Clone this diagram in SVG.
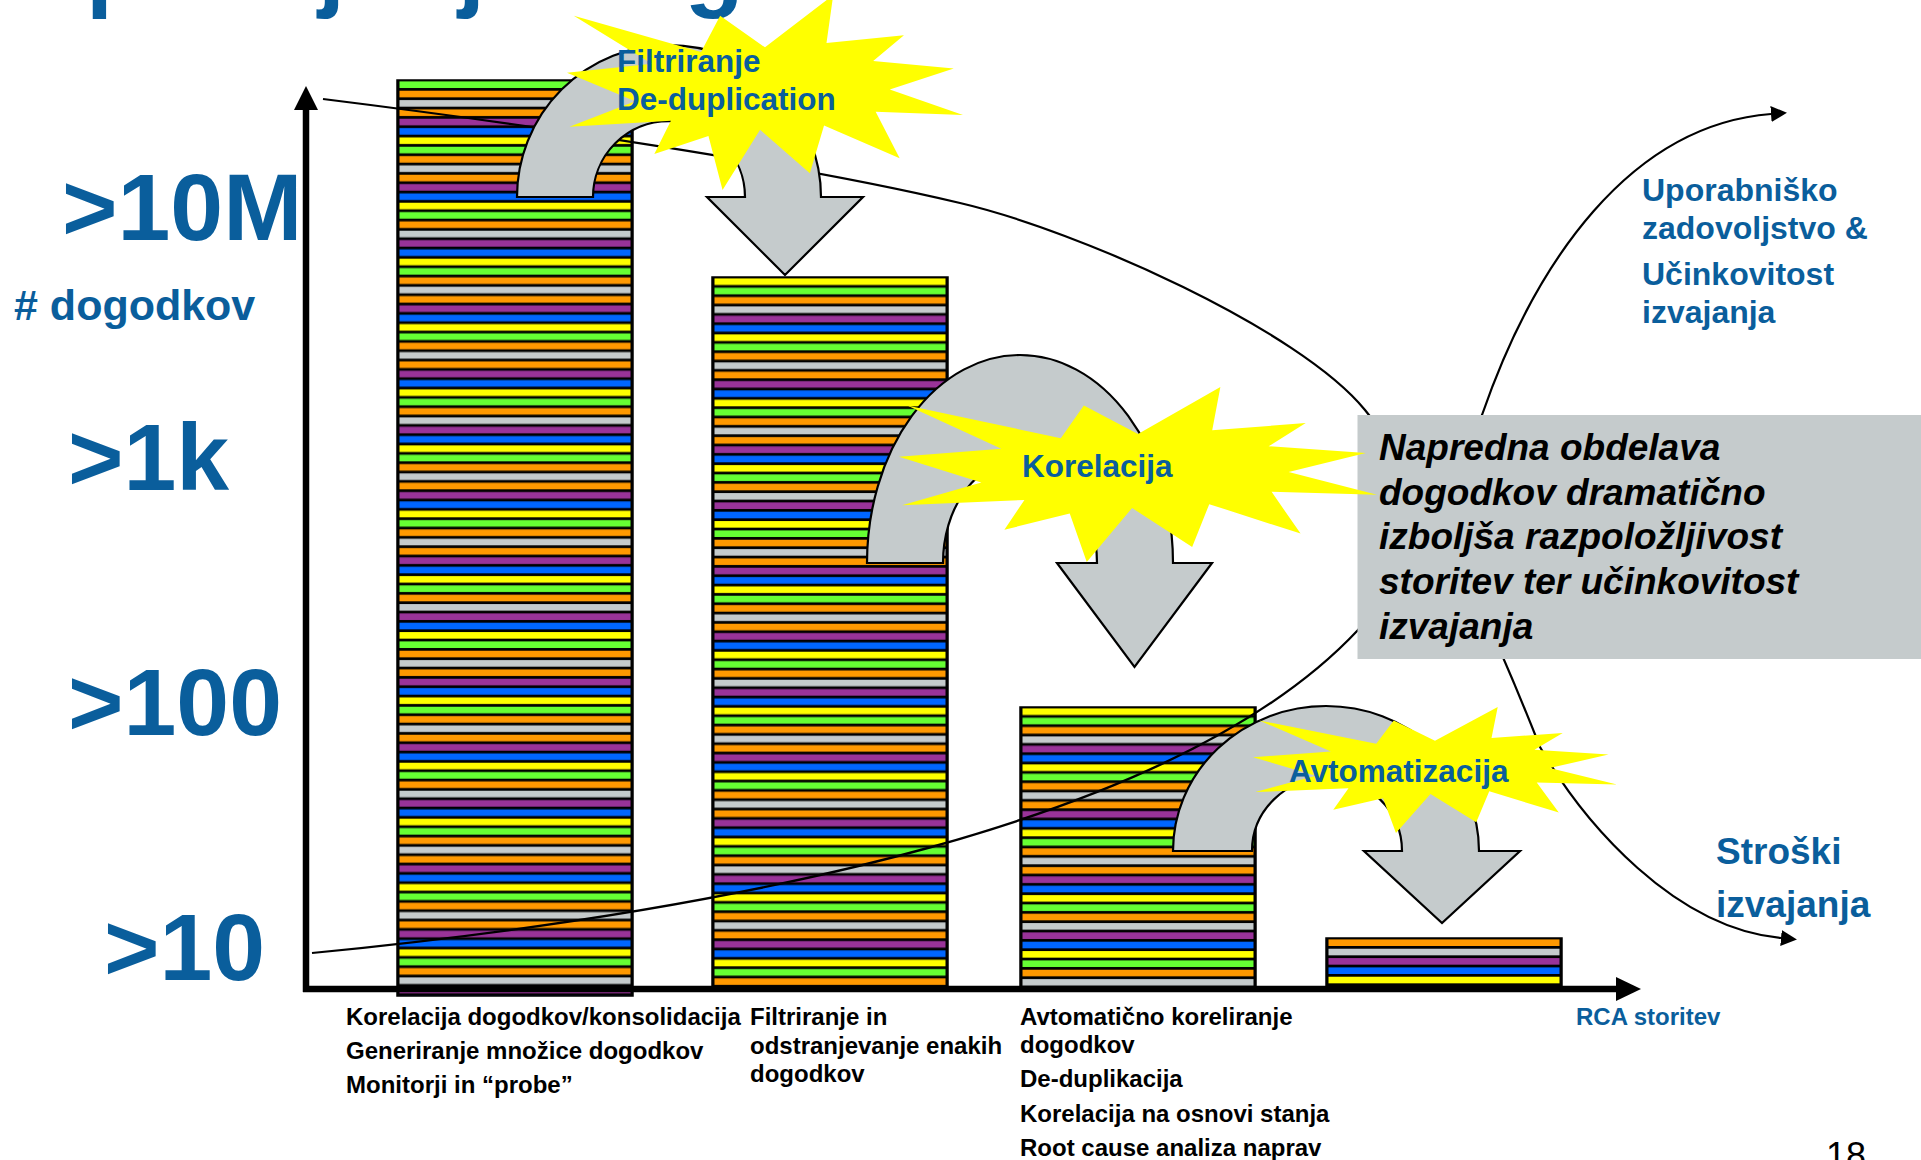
<svg xmlns="http://www.w3.org/2000/svg" width="1921" height="1160" viewBox="0 0 1921 1160">
<style>
  text { font-family: "Liberation Sans", Arial, sans-serif; font-weight: bold; }
  .blue { fill: #0A5E9C; }
  .big { font-size: 95px; }
  .lbl { font-size: 24px; fill: #000; }
  .burst-t { font-size: 31.5px; }
  .side { font-size: 32px; }
  .note-t { font-size: 37px; font-style: italic; fill: #000; }
  .plain { font-weight: normal; }
  .g { fill: #66FF33; } .o { fill: #FF9900; } .s { fill: #C5CBCC; }
  .p { fill: #993399; } .b { fill: #0066FF; } .y { fill: #FFFF00; }
  .bar { stroke: #000; stroke-width: 1.5; }
  .uturn { fill: #C5CBCC; stroke: #000; stroke-width: 2.2; }
  .curve { fill: none; stroke: #000; stroke-width: 2.2; }
  .axis { stroke: #000; stroke-width: 6.5; fill: none; }
</style>
<defs>
  <!-- repeating block of 20 coloured event stripes, 28/3 px per stripe -->
  <pattern id="stripes" patternUnits="userSpaceOnUse" width="236" height="186.6667">
    <rect width="236" height="186.6667" fill="#000"/>
    <rect class="g" x="2.5" y="1.4" width="231" height="6.6"/>
    <rect class="o" x="2.5" y="10.73" width="231" height="6.6"/>
    <rect class="s" x="2.5" y="20.07" width="231" height="6.6"/>
    <rect class="o" x="2.5" y="29.4" width="231" height="6.6"/>
    <rect class="p" x="2.5" y="38.73" width="231" height="6.6"/>
    <rect class="b" x="2.5" y="48.07" width="231" height="6.6"/>
    <rect class="y" x="2.5" y="57.4" width="231" height="6.6"/>
    <rect class="g" x="2.5" y="66.73" width="231" height="6.6"/>
    <rect class="o" x="2.5" y="76.07" width="231" height="6.6"/>
    <rect class="s" x="2.5" y="85.4" width="231" height="6.6"/>
    <rect class="o" x="2.5" y="94.73" width="231" height="6.6"/>
    <rect class="p" x="2.5" y="104.07" width="231" height="6.6"/>
    <rect class="b" x="2.5" y="113.4" width="231" height="6.6"/>
    <rect class="y" x="2.5" y="122.73" width="231" height="6.6"/>
    <rect class="g" x="2.5" y="132.07" width="231" height="6.6"/>
    <rect class="o" x="2.5" y="141.4" width="231" height="6.6"/>
    <rect class="s" x="2.5" y="150.73" width="231" height="6.6"/>
    <rect class="p" x="2.5" y="160.07" width="231" height="6.6"/>
    <rect class="b" x="2.5" y="169.4" width="231" height="6.6"/>
    <rect class="y" x="2.5" y="178.73" width="231" height="6.6"/>
  </pattern>
  <!-- explosion shape in a 100 x 100 box -->
  <path id="seal" fill="#FFFF00" d="M50,26.85 L67.23,0 L65.53,24.65 L85.09,20.63 L77.32,33.87 L97.67,37.67 L81.51,48.5 L100,61.53 L77.95,59.92 L84.01,83.77 L64.91,66.93 L61.33,91.38 L48.76,69.14 L39.28,100 L35.72,72.35 L22.05,81.56 L26.24,64.52 L0.63,67.53 L17.23,54.51 L0,39.88 L21.42,35.26 L1.71,10.63 L33.85,29.26 L38.67,10.63 Z"/>
  <marker id="head" markerUnits="userSpaceOnUse" viewBox="0 0 16 16" markerWidth="16" markerHeight="16" refX="0" refY="8" orient="auto">
    <path d="M0,0 L16,8 L0,16 Z" fill="#000"/>
  </marker>
</defs>

<rect width="1921" height="1160" fill="#fff"/>

<!-- page title, mostly above the visible area -->
<text id="title" class="blue" x="16" y="-1.5" font-size="97">Upravljanje dogodkov</text>

<!-- event stacks -->
<g id="bar1" transform="translate(397,80)">
  <rect class="bar" width="236" height="916" fill="url(#stripes)"/>
</g>
<g id="bar2" transform="translate(712,155.667)">
  <rect class="bar" y="121.333" width="236" height="709" fill="url(#stripes)"/>
</g>
<g id="bar3" transform="translate(1020,585.667)">
  <rect class="bar" y="121.333" width="236" height="280" fill="url(#stripes)"/>
</g>
<g id="bar4" transform="translate(1326,938)">
  <rect class="bar" width="236" height="49" fill="#000"/>
  <rect class="o" x="2.5" y="1.4" width="231" height="6.6"/>
  <rect class="s" x="2.5" y="10.73" width="231" height="6.6"/>
  <rect class="p" x="2.5" y="20.07" width="231" height="6.6"/>
  <rect class="b" x="2.5" y="29.4" width="231" height="6.6"/>
  <rect class="y" x="2.5" y="38.73" width="231" height="6.6"/>
</g>

<!-- trend curves -->
<g id="connectors">
  <path class="curve" marker-end="url(#head)" d="M323,99 C540,126 800,165 960,203 C1080,231 1300,330 1365,410 C1430,490 1490,620 1540,747 C1585,825 1675,928 1781,938"/>
  <path class="curve" marker-end="url(#head)" d="M312,953 C750,910 1180,820 1358,630 C1410,570 1455,470 1482,415 C1535,262 1630,125 1771,114"/>
</g>

<!-- axes -->
<g id="axes">
  <path class="axis" d="M306,992 V108"/>
  <path d="M294,110 L306,86 L318,110 Z" fill="#000"/>
  <path class="axis" d="M303,989 H1618"/>
  <path d="M1616,977 L1641,989 L1616,1001 Z" fill="#000"/>
</g>

<!-- summary note -->
<g id="note">
  <rect x="1357.5" y="415" width="564" height="244" fill="#C5CBCC"/>
  <text class="note-t" x="1379" y="460">Napredna obdelava</text>
  <text class="note-t" x="1379" y="504.7">dogodkov dramatično</text>
  <text class="note-t" x="1379" y="549.4">izboljša razpoložljivost</text>
  <text class="note-t" x="1379" y="594.1">storitev ter učinkovitost</text>
  <text class="note-t" x="1379" y="638.8">izvajanja</text>
</g>

<!-- processing steps: u-turn arrows with bursts -->
<g id="step1">
  <path class="uturn" d="M517,197 A152,152 0 0 1 821,197 L863,197 L785,275 L707,197 L745,197 A76,76 0 0 0 593,197 Z"/>
  <use href="#seal" transform="translate(567,-5) scale(3.96,1.95)"/>
  <text class="blue burst-t" x="617" y="72">Filtriranje</text>
  <text class="blue burst-t" x="617" y="110">De-duplication</text>
</g>
<g id="step2">
  <path class="uturn" d="M867,563 A153,208 0 0 1 1173,563 L1212,563 L1134.5,667 L1057,563 L1097,563 A77,103 0 0 0 943,563 Z"/>
  <use href="#seal" transform="translate(899,387) scale(4.78,1.75)"/>
  <text class="blue burst-t" x="1022" y="477">Korelacija</text>
</g>
<g id="step3">
  <path class="uturn" d="M1173,851 A153,145 0 0 1 1479,851 L1520,851 L1442,923 L1364,851 L1402,851 A75,73 0 0 0 1252,851 Z"/>
  <use href="#seal" transform="translate(1253,707) scale(3.64,1.26)"/>
  <text class="blue burst-t" x="1289" y="782">Avtomatizacija</text>
</g>

<!-- y-axis scale -->
<g id="scale">
  <text class="blue big" x="62" y="240">&gt;10M</text>
  <text class="blue" x="14" y="320" font-size="43">#&#160;dogodkov</text>
  <text class="blue big" x="68" y="490">&gt;1k</text>
  <text class="blue big" x="68" y="735">&gt;100</text>
  <text class="blue big" x="104" y="980">&gt;10</text>
</g>

<!-- curve labels -->
<g id="label-up">
  <text class="blue side" x="1642" y="201">Uporabniško</text>
  <text class="blue side" x="1642" y="239">zadovoljstvo &amp;</text>
  <text class="blue side" x="1642" y="285">Učinkovitost</text>
  <text class="blue side" x="1642" y="323">izvajanja</text>
</g>
<g id="label-down">
  <text class="blue" x="1716" y="864" font-size="37">Stroški</text>
  <text class="blue" x="1716" y="917" font-size="37">izvajanja</text>
</g>

<!-- captions under the stacks -->
<g id="caption1">
  <text class="lbl" x="346" y="1025">Korelacija dogodkov/konsolidacija</text>
  <text class="lbl" x="346" y="1059">Generiranje množice dogodkov</text>
  <text class="lbl" x="346" y="1093">Monitorji in “probe”</text>
</g>
<g id="caption2">
  <text class="lbl" x="750" y="1025">Filtriranje in</text>
  <text class="lbl" x="750" y="1053.5">odstranjevanje enakih</text>
  <text class="lbl" x="750" y="1082">dogodkov</text>
</g>
<g id="caption3">
  <text class="lbl" x="1020" y="1025">Avtomatično koreliranje</text>
  <text class="lbl" x="1020" y="1053">dogodkov</text>
  <text class="lbl" x="1020" y="1087">De-duplikacija</text>
  <text class="lbl" x="1020" y="1122">Korelacija na osnovi stanja</text>
  <text class="lbl" x="1020" y="1156">Root cause analiza naprav</text>
</g>
<text id="x-label" class="blue" x="1576" y="1025" font-size="24">RCA storitev</text>

<text id="page" class="plain" x="1826" y="1168" font-size="36" fill="#000">18</text>
</svg>
